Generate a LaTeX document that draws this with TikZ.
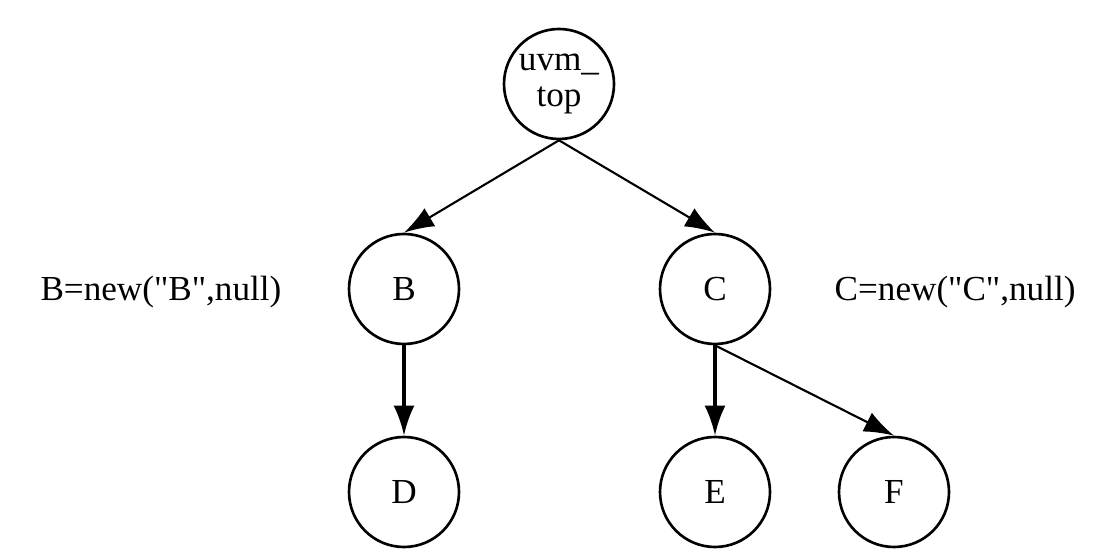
\documentclass[tikz,border=0pt]{standalone}
\usepackage{fontspec}
\setmainfont{Liberation Serif}
\usetikzlibrary{arrows.meta,positioning}
\tikzset{
  >={Latex[length=0.6cm,width=0.42cm]},
}
\tikzstyle{comp}=[draw,circle,line width=1.5pt,minimum size=2.2cm,inner sep=0pt,align=center]
\tikzstyle{link}=[->,line width=1.2pt]
\tikzstyle{thicklink}=[->,line width=2pt]
\tikzstyle{every node}=[font=\fontsize{20}{21}\selectfont]

\begin{document}
\begin{tikzpicture}
    \useasboundingbox (0,0) rectangle (21.92,11.18);

    \node[comp] (top) at (11.18,9.50) {uvm\_\\top};
    \node[comp] (B) at (8.08,5.40) {B};
    \node[comp] (C) at (14.30,5.40) {C};
    \node[comp] (D) at (8.08,1.34) {D};
    \node[comp] (E) at (14.30,1.34) {E};
    \node[comp] (F) at (17.88,1.34) {F};

    \node[inner sep=0pt,left=1.32cm of B,yshift=-2pt] (newB) {B=new(\textquotedbl B\textquotedbl,null)};
    \node[inner sep=0pt,right=1.26cm of C,yshift=-2pt] (newC) {C=new(\textquotedbl C\textquotedbl,null)};

    \draw[link] (top.south) -- (B.north);
    \draw[link] (top.south) -- (C.north);
    \draw[thicklink] (B.south) -- (D.north);
    \draw[thicklink] (C.south) -- (E.north);
    \draw[link] (C.south) -- (F.north);
\end{tikzpicture}
\end{document}
